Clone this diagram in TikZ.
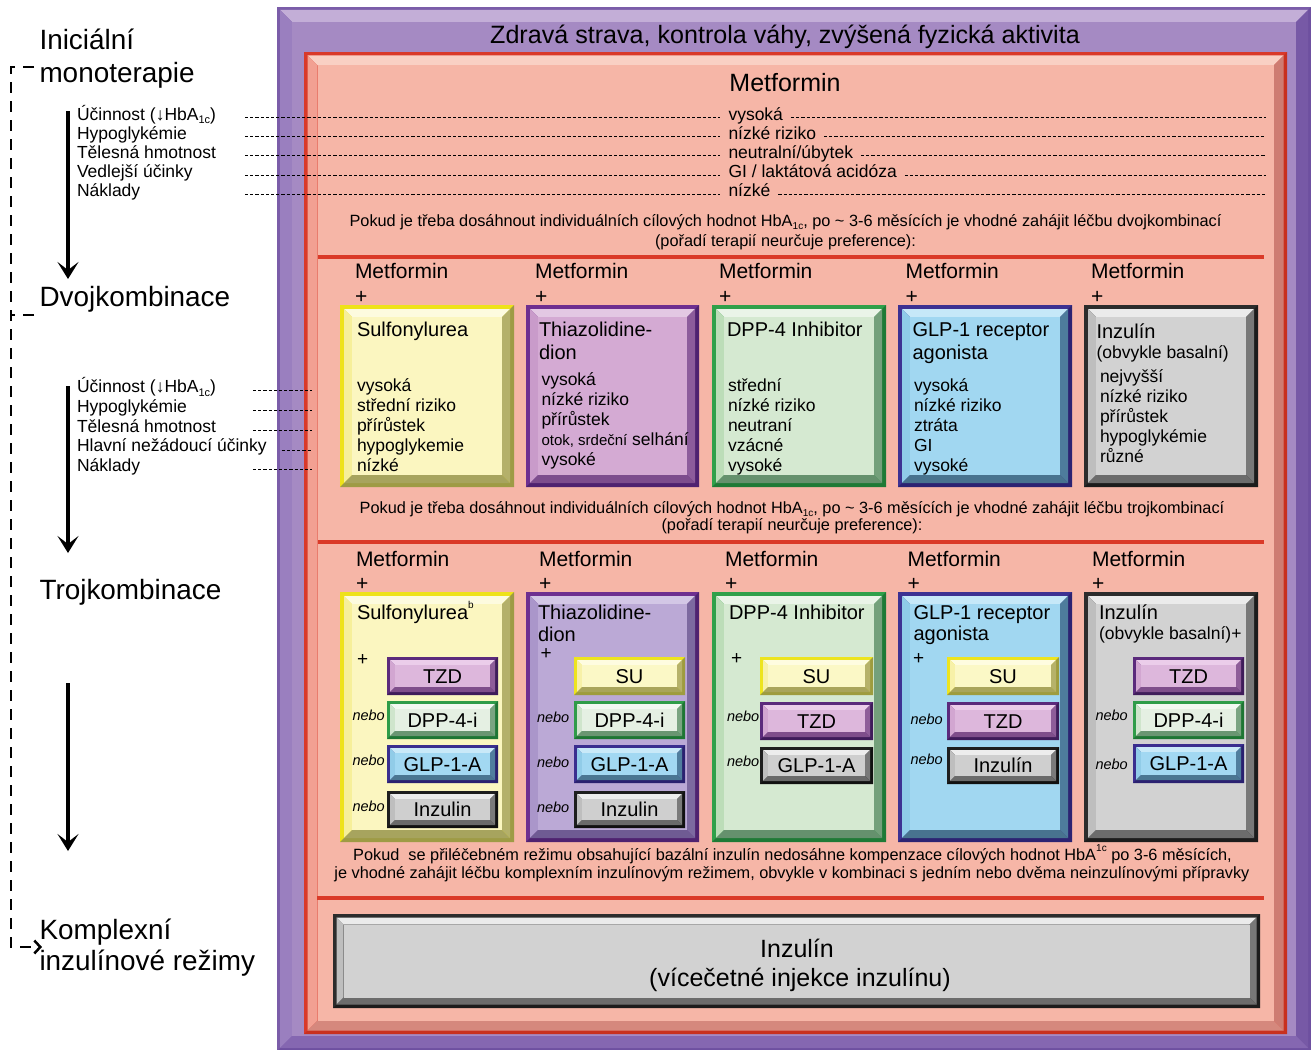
\documentclass[tikz,border=0pt]{standalone}
\usepackage{fontspec}
\setmainfont{Liberation Sans}
\usetikzlibrary{arrows.meta,calc}
\newcommand{\fs}[1]{\fontsize{#1}{#1}\selectfont}
\newcommand{\subt}[2]{\raisebox{-0.2em}{\fs{#1}#2}}
\newcommand{\supt}[2]{\raisebox{0.55em}{\fs{#1}#2}}
\newcommand{\defset}[8]{\definecolor{#1D}{HTML}{#2}\definecolor{#1E}{HTML}{#3}\definecolor{#1T}{HTML}{#4}\definecolor{#1L}{HTML}{#5}\definecolor{#1R}{HTML}{#6}\definecolor{#1B}{HTML}{#7}\definecolor{#1F}{HTML}{#8}}
% name D E T L R B F
\defset{pfr}{7B5DA9}{6E50A0}{C3AED7}{9A7FBF}{7759A6}{8567B1}{A58AC3}
\defset{rbx}{D9392A}{C8301F}{F9D0C4}{F2A092}{CE7C72}{D5887D}{F6B6A7}
\defset{yel}{EEE21A}{9E9B45}{FDFBDF}{F6EF9A}{B4B06A}{A7A45E}{FBF6C0}
\defset{pura}{6E2F90}{4F2270}{E3C8E3}{C99BCA}{8C5C9B}{7D4D8D}{D4AAD3}
\defset{purb}{6E2F90}{4F2270}{D3C7E6}{AA96CA}{7C69A0}{6F5B93}{BBA9D6}
\defset{grn}{30A04A}{1F7A36}{EAF4E8}{BCDDB8}{74A07B}{65916D}{D5E9D1}
\defset{blu}{3D3192}{2C2372}{C6E8F8}{8FCBE8}{4E7C9C}{48738F}{A1D7F1}
\defset{gry}{2C2C2C}{1C1C1C}{EBEBEB}{BEBEBE}{787878}{6C6C6C}{D2D2D2}
\defset{stzd}{5B2A7C}{3F1C5A}{EBCDEA}{D2A6D1}{8E5D99}{7F4E8B}{DDB7DC}
\defset{ssu}{EDE41F}{9E9C3E}{FEFCE0}{F7F1A8}{B6B26A}{A9A55B}{FBF8C6}
\defset{sdpp}{2F9C49}{1E7634}{F3F8F2}{CFE5CC}{7AA481}{6A9672}{E5F0E3}
\defset{sglp}{3A2E8F}{2A2170}{C9E9F8}{91CCE8}{507E9E}{4A7692}{A2D8F2}
\defset{sgry}{1E1E1E}{111111}{EDEDED}{BEBEBE}{7A7A7A}{6A6A6A}{CFCFCF}
\definecolor{sepred}{HTML}{DA3A28}
% name x1 y1 x2 y2 border bevel colourset
\newcommand{\bevbox}[8]{%
\pgfmathsetmacro{\bAx}{#2+#6}\pgfmathsetmacro{\bAy}{#3+#6}%
\pgfmathsetmacro{\bBx}{#4-#6}\pgfmathsetmacro{\bBy}{#5-#6}%
\pgfmathsetmacro{\bCx}{\bAx+#7}\pgfmathsetmacro{\bCy}{\bAy+#7}%
\pgfmathsetmacro{\bDx}{\bBx-#7}\pgfmathsetmacro{\bDy}{\bBy-#7}%
\fill[#8D] (#2,#3) rectangle (#4,#5);
\fill[#8E] (#4,#3) -- (#4,#5) -- (#2,#5) -- (\bAx,\bBy) -- (\bBx,\bBy) -- (\bBx,\bAy) -- cycle;
\fill[#8T] (\bAx,\bAy) -- (\bBx,\bAy) -- (\bDx,\bCy) -- (\bCx,\bCy) -- cycle;
\fill[#8L] (\bAx,\bAy) -- (\bCx,\bCy) -- (\bCx,\bDy) -- (\bAx,\bBy) -- cycle;
\fill[#8R] (\bBx,\bAy) -- (\bBx,\bBy) -- (\bDx,\bDy) -- (\bDx,\bCy) -- cycle;
\fill[#8B] (\bAx,\bBy) -- (\bBx,\bBy) -- (\bDx,\bDy) -- (\bCx,\bDy) -- cycle;
\fill[#8F] (\bCx,\bCy) rectangle (\bDx,\bDy);
\coordinate (#1) at ({(#2+#4)/2},{(#3+#5)/2});
}
% sub box with centred label: name x1 y1 x2 y2 colourset label
\newcommand{\subbox}[7]{%
\bevbox{#1}{#2}{#3}{#4}{#5}{3}{5}{#6}
\node[sublbl] (#1t) at ({(#2+#4)/2},{(#3+#5)/2+7}) {#7};
}
% column of text lines: name x y0 dy list
\newcommand{\tcol}[5]{%
\foreach \tx [count=\k from 1] in {#5} {\node[lab] (#1\k) at (#2,{#3+(\k-1)*#4}) {\tx};}
}
\tikzset{
 txt/.style={anchor=base west, inner sep=0pt, outer sep=0pt},
 lab/.style={txt, font=\fs{17.5}},
 big/.style={txt, font=\fs{27.9}},
 met/.style={txt, font=\fs{21}},
 ttl/.style={txt, font=\fs{20}},
 plus/.style={txt, font=\fs{19}},
 sublbl/.style={anchor=base, inner sep=0pt, font=\fs{20}},
 nb/.style={txt, font=\fs{14.5}\itshape},
 note/.style={anchor=base, inner sep=0pt, font=\fs{16.3}},
 dl/.style={line width=0.8pt, dash pattern=on 3.2pt off 2pt},
 flow/.style={line width=4pt, -{Stealth[length=17pt,width=21pt,inset=8pt]}},
 brk/.style={line width=2.5pt, dash pattern=on 11pt off 8pt},
 sepline/.style={line width=4pt, sepred},
}
\begin{document}
\begin{tikzpicture}[x=1pt,y=-1pt]
\useasboundingbox (0,0) rectangle (1311,1049);
\fill[white] (0,0) rectangle (1311,1049);
% frames
\bevbox{pframe}{277}{7}{1311}{1051}{3}{12}{pfr}
\bevbox{rframe}{304}{52}{1287}{1034}{3.5}{10}{rbx}
\draw[sepline] (318,257) -- (1264,257);
\draw[sepline] (318,542) -- (1264,542);
\draw[sepline] (317,898) -- (1264,898);
% title and metformin
\node[font=\fs{25.1}, anchor=base, inner sep=0pt] (title) at (785,43.5) {Zdravá strava, kontrola váhy, zvýšená fyzická aktivita};
\node[font=\fs{25}, anchor=base, inner sep=0pt] (met0) at (785,91.5) {Metformin};
\tcol{m}{728.5}{120}{19.2}{vysoká,nízké riziko,neutralní/úbytek,GI / laktátová acidóza,nízké}
\tcol{a}{77}{120}{19.2}{Účinnost (↓HbA\subt{11}{1c}),Hypoglykémie,Tělesná hmotnost,Vedlejší účinky,Náklady}
\foreach \i in {1,...,5} {
 \draw[dl] ($(a\i.base west)+(168,-2.6)$) -- ($(m\i.base west)+(-9,-2.6)$);
 \draw[dl] ($(m\i.base east)+(8,-2.6)$) -- ($(m\i.base west)+(537.5,-2.6)$);
}
\node[note] (n1a) at (785.5,226.7) {Pokud je třeba dosáhnout individuálních cílových hodnot HbA\subt{10}{1c}, po \textasciitilde{} 3-6 měsících je vhodné zahájit léčbu dvojkombinací};
\node[note] (n1b) at (785.5,246) {(pořadí terapií neurčuje preference):};
% left side
\node[big] (ini1) at (39.5,50) {Iniciální};
\node[big] (ini2) at (39.5,82) {monoterapie};
\node[big] (dvoj) at (39.5,306.5) {Dvojkombinace};
\node[big] (troj) at (39.5,599) {Trojkombinace};
\node[big] (kom1) at (39.5,939) {Komplexní};
\node[big] (kom2) at (39.5,970.5) {inzulínové režimy};
\tcol{b}{77}{392.5}{19.8}{Účinnost (↓HbA\subt{11}{1c}),Hypoglykémie,Tělesná hmotnost,Hlavní nežádoucí účinky,Náklady}
\foreach \i in {1,2,3,5} {\draw[dl] ($(b\i.base west)+(176,-2)$) -- ($(b\i.base west)+(235,-2)$);}
\draw[dl] ($(b4.base east)+(15,-2)$) -- ($(b4.base west)+(235,-2)$);
\coordinate (f1s) at (68,111); \coordinate (f1e) at (68,279);
\coordinate (f2s) at (68,386); \coordinate (f2e) at (68,553);
\coordinate (f3s) at (68,683); \coordinate (f3e) at (68,851);
\draw[flow] (f1s) -- (f1e);
\draw[flow] (f2s) -- (f2e);
\draw[flow] (f3s) -- (f3e);
\coordinate (k0) at (34,67); \coordinate (k1) at (11,67); \coordinate (k2) at (11,947); \coordinate (k3) at (42,947);
\draw[brk, -{Straight Barb[length=6pt,width=13pt]}] (k0) -- (k1) -- (k2) -- (k3);
\coordinate (kb0) at (34,315); \coordinate (kb1) at (11,315);
\draw[brk] (kb0) -- (kb1);
% ---------- row 1
\foreach \x/\n in {355/1,535/2,719/3,905.5/4,1091/5} {
 \node[met] (rm\n) at (\x,278.5) {Metformin};
 \node[met] (rp\n) at (\x,303) {+};
}
\bevbox{A1}{340}{305}{514}{487}{4}{8}{yel}
\bevbox{A2}{526}{305}{699}{487}{4}{8}{pura}
\bevbox{A3}{712}{305}{886}{487}{4}{8}{grn}
\bevbox{A4}{898}{305}{1072}{487}{4}{8}{blu}
\bevbox{A5}{1084}{305}{1258}{487}{4}{8}{gry}
\node[ttl] (A1t) at (357,336) {Sulfonylurea};
\node[ttl] (A2t) at (539,336) {Thiazolidine-};
\node[ttl] (A2u) at (539,359) {dion};
\node[ttl] (A3t) at (727,336) {DPP-4 Inhibitor};
\node[ttl] (A4t) at (912.5,336) {GLP-1 receptor};
\node[ttl] (A4u) at (912.5,359) {agonista};
\node[ttl] (A5t) at (1096.5,338) {Inzulín};
\node[lab] (A5u) at (1096.5,358.5) {(obvykle basalní)};
\tcol{pa}{357}{391.7}{20}{vysoká,střední riziko,přírůstek,hypoglykemie,nízké}
\tcol{pb}{541.5}{385}{20}{vysoká,nízké riziko,přírůstek,{{\fs{15}otok, srdeční} selhání},vysoké}
\tcol{pc}{728}{391.7}{20}{střední,nízké riziko,neutraní,vzácné,vysoké}
\tcol{pd}{914}{391.7}{20}{vysoká,nízké riziko,ztráta,GI,vysoké}
\tcol{pe}{1100}{382.7}{20}{nejvyšší,nízké riziko,přírůstek,hypoglykémie,různé}
\node[note] (n2a) at (792,513.3) {Pokud je třeba dosáhnout individuálních cílových hodnot HbA\subt{10}{1c}, po \textasciitilde{} 3-6 měsících je vhodné zahájit léčbu trojkombinací};
\node[note] (n2b) at (792,530.5) {(pořadí terapií neurčuje preference):};
% ---------- row 2
\foreach \x/\n in {356/1,539/2,725/3,907.5/4,1092/5} {
 \node[met] (sm\n) at (\x,566) {Metformin};
 \node[met] (sp\n) at (\x,590.5) {+};
}
\bevbox{B1}{340}{592}{514}{842}{4}{8}{yel}
\bevbox{B2}{526}{592}{699}{842}{4}{8}{purb}
\bevbox{B3}{712}{592}{886}{842}{4}{8}{grn}
\bevbox{B4}{898}{592}{1072}{842}{4}{8}{blu}
\bevbox{B5}{1084}{592}{1258}{842}{4}{8}{gry}
\node[ttl] (B1t) at (357,619) {Sulfonylurea\supt{10}{b}};
\node[ttl] (B2t) at (538,619) {Thiazolidine-};
\node[ttl] (B2u) at (538,641) {dion};
\node[ttl] (B3t) at (729,619) {DPP-4 Inhibitor};
\node[ttl] (B4t) at (913.5,619) {GLP-1 receptor};
\node[ttl] (B4u) at (913.5,640.5) {agonista};
\node[ttl] (B5t) at (1099,619) {Inzulín};
\node[lab] (B5u) at (1099,639.5) {(obvykle basalní)+};
\node[plus] (B1p) at (357,665) {+};
\node[plus] (B2p) at (540.5,659) {+};
\node[plus] (B3p) at (731,664.5) {+};
\node[plus] (B4p) at (913,664) {+};
% sub boxes
\subbox{s11}{387}{657}{498}{695}{stzd}{TZD}
\subbox{s12}{387}{701}{498}{739}{sdpp}{DPP-4-i}
\subbox{s13}{387}{745}{498}{783}{sglp}{GLP-1-A}
\subbox{s14}{387}{791}{498}{828}{sgry}{Inzulin}
\subbox{s21}{574}{657}{685}{695}{ssu}{SU}
\subbox{s22}{574}{701}{685}{739}{sdpp}{DPP-4-i}
\subbox{s23}{574}{745}{685}{783}{sglp}{GLP-1-A}
\subbox{s24}{574}{791}{685}{828}{sgry}{Inzulin}
\subbox{s31}{760}{657}{873}{695}{ssu}{SU}
\subbox{s32}{760}{702}{873}{740}{stzd}{TZD}
\subbox{s33}{760}{747}{873}{784}{sgry}{GLP-1-A}
\subbox{s41}{947}{657}{1059}{695}{ssu}{SU}
\subbox{s42}{947}{702}{1059}{740}{stzd}{TZD}
\subbox{s43}{947}{747}{1059}{784}{sgry}{Inzulín}
\subbox{s51}{1133}{657}{1244}{695}{stzd}{TZD}
\subbox{s52}{1133}{701}{1244}{739}{sdpp}{DPP-4-i}
\subbox{s53}{1133}{744}{1244}{783}{sglp}{GLP-1-A}
\foreach \x/\y/\n in {352.5/720.7/a1,352.5/765/a2,352.5/811.7/a3,537/722.7/b1,537/767/b2,537/812/b3,727/721.7/c1,727/766.7/c2,910.5/724.3/d1,910.5/764/d2,1095.5/720/e1,1095.5/769/e2}
 {\node[nb] (nebo\n) at (\x,\y) {nebo};}
\node[note] (n3a) at (792.5,860) {Pokud\ \ se přiléčebném režimu obsahující bazální inzulín nedosáhne kompenzace cílových hodnot HbA\supt{10}{1c} po 3-6 měsících,};
\node[note] (n3b) at (792,878.5) {je vhodné zahájit léčbu komplexním inzulínovým režimem, obvykle v kombinaci s jedním nebo dvěma neinzulínovými přípravky};
% bottom box
\bevbox{C1}{333}{914}{1260}{1008}{3.5}{7}{gry}
\node[font=\fs{25}, anchor=base, inner sep=0pt] (C1t) at (797,957) {Inzulín};
\node[font=\fs{25}, anchor=base, inner sep=0pt] (C1u) at (800,986) {(vícečetné injekce inzulínu)};
\end{tikzpicture}
\end{document}
